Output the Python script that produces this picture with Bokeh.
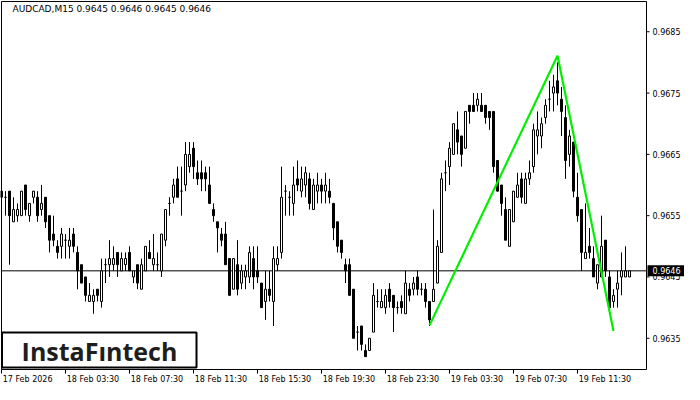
from bokeh.plotting import figure
from bokeh.models import Range1d, ColumnDataSource
from bokeh.core.properties import value
from bokeh.embed import file_html
from bokeh.resources import INLINE

# ---------------- data ----------------
title_text = "AUDCAD,M15  0.9645 0.9646 0.9645 0.9646"

open_ = [
    0.9658, 0.9658, 0.9659, 0.9654, 0.9655, 0.9655, 0.9660, 0.9655, 0.9658, 0.9658,
    0.9656, 0.9658, 0.9655, 0.9652, 0.9650, 0.9650, 0.9651, 0.9650, 0.9652, 0.9649,
    0.9647, 0.9645, 0.9641, 0.9641, 0.9643, 0.9641, 0.9647, 0.9647, 0.9647, 0.9649,
    0.9646, 0.9647, 0.9649, 0.9645, 0.9647, 0.9643, 0.9646, 0.9649, 0.9647, 0.9647,
    0.9646, 0.9651, 0.9657, 0.9658, 0.9661, 0.9659, 0.9660, 0.9663, 0.9666, 0.9662,
    0.9662, 0.9662, 0.9660, 0.9656, 0.9654, 0.9652, 0.9652, 0.9648, 0.9643, 0.9647,
    0.9644, 0.9645, 0.9645, 0.9648, 0.9646, 0.9644, 0.9641, 0.9643, 0.9641, 0.9647,
    0.9649, 0.9659, 0.9658, 0.9657, 0.9661, 0.9659, 0.9660, 0.9661, 0.9656, 0.9659,
    0.9660, 0.9659, 0.9659, 0.9657, 0.9654, 0.9651, 0.9647, 0.9647, 0.9643, 0.9636,
    0.9637, 0.9633, 0.9633, 0.9636, 0.9641, 0.9640, 0.9640, 0.9643, 0.9642, 0.9640,
    0.9641, 0.9639, 0.9643, 0.9643, 0.9645, 0.9643, 0.9643, 0.9641, 0.9641, 0.9644,
    0.9649, 0.9662, 0.9663, 0.9665, 0.9669, 0.9668, 0.9666, 0.9673, 0.9673, 0.9673,
    0.9673, 0.9673, 0.9672, 0.9672, 0.9664, 0.9660, 0.9656, 0.9650, 0.9654, 0.9658,
    0.9661, 0.9657, 0.9661, 0.9663, 0.9668, 0.9668, 0.9671, 0.9674, 0.9675, 0.9677,
    0.9674, 0.9671, 0.9665, 0.9667, 0.9658, 0.9656, 0.9648, 0.9650, 0.9648, 0.9644,
    0.9645, 0.9651, 0.9645, 0.9641, 0.9643, 0.9645, 0.9645, 0.9645,
]
high = [
    0.9660, 0.9659, 0.9659, 0.9658, 0.9657, 0.9659, 0.9660, 0.9657, 0.9659, 0.9659,
    0.9660, 0.9658, 0.9655, 0.9655, 0.9651, 0.9653, 0.9652, 0.9653, 0.9653, 0.9650,
    0.9647, 0.9645, 0.9644, 0.9643, 0.9643, 0.9648, 0.9648, 0.9651, 0.9650, 0.9649,
    0.9649, 0.9649, 0.9650, 0.9646, 0.9647, 0.9648, 0.9650, 0.9651, 0.9652, 0.9649,
    0.9652, 0.9656, 0.9658, 0.9661, 0.9663, 0.9663, 0.9667, 0.9667, 0.9667, 0.9664,
    0.9664, 0.9663, 0.9663, 0.9657, 0.9654, 0.9653, 0.9654, 0.9648, 0.9648, 0.9651,
    0.9647, 0.9647, 0.9650, 0.9650, 0.9650, 0.9644, 0.9646, 0.9646, 0.9650, 0.9650,
    0.9663, 0.9660, 0.9659, 0.9663, 0.9664, 0.9663, 0.9663, 0.9662, 0.9661, 0.9662,
    0.9661, 0.9662, 0.9661, 0.9657, 0.9654, 0.9651, 0.9648, 0.9648, 0.9643, 0.9637,
    0.9637, 0.9634, 0.9635, 0.9644, 0.9643, 0.9643, 0.9643, 0.9644, 0.9642, 0.9641,
    0.9642, 0.9646, 0.9644, 0.9645, 0.9646, 0.9644, 0.9644, 0.9641, 0.9656, 0.9651,
    0.9662, 0.9664, 0.9667, 0.9670, 0.9672, 0.9668, 0.9672, 0.9673, 0.9675, 0.9675,
    0.9675, 0.9673, 0.9672, 0.9672, 0.9664, 0.9660, 0.9658, 0.9656, 0.9659, 0.9662,
    0.9662, 0.9662, 0.9664, 0.9670, 0.9672, 0.9671, 0.9674, 0.9677, 0.9678, 0.9680,
    0.9676, 0.9673, 0.9669, 0.9667, 0.9662, 0.9656, 0.9657, 0.9653, 0.9650, 0.9647,
    0.9655, 0.9651, 0.9646, 0.9643, 0.9646, 0.9649, 0.9650, 0.9646,
]
low = [
    0.9658, 0.9655, 0.9647, 0.9654, 0.9654, 0.9655, 0.9655, 0.9654, 0.9657, 0.9654,
    0.9655, 0.9653, 0.9649, 0.9650, 0.9648, 0.9648, 0.9648, 0.9648, 0.9649, 0.9643,
    0.9644, 0.9641, 0.9641, 0.9639, 0.9641, 0.9640, 0.9644, 0.9645, 0.9646, 0.9645,
    0.9646, 0.9646, 0.9646, 0.9644, 0.9643, 0.9643, 0.9646, 0.9648, 0.9646, 0.9646,
    0.9645, 0.9650, 0.9655, 0.9657, 0.9658, 0.9655, 0.9659, 0.9662, 0.9661, 0.9660,
    0.9659, 0.9659, 0.9657, 0.9654, 0.9649, 0.9650, 0.9647, 0.9642, 0.9643, 0.9642,
    0.9643, 0.9643, 0.9644, 0.9643, 0.9644, 0.9640, 0.9638, 0.9641, 0.9637, 0.9646,
    0.9648, 0.9655, 0.9655, 0.9655, 0.9659, 0.9658, 0.9658, 0.9656, 0.9656, 0.9657,
    0.9657, 0.9657, 0.9657, 0.9651, 0.9649, 0.9648, 0.9644, 0.9642, 0.9635, 0.9633,
    0.9633, 0.9632, 0.9633, 0.9636, 0.9640, 0.9640, 0.9639, 0.9640, 0.9636, 0.9639,
    0.9639, 0.9639, 0.9641, 0.9642, 0.9642, 0.9642, 0.9640, 0.9637, 0.9641, 0.9644,
    0.9649, 0.9659, 0.9660, 0.9665, 0.9665, 0.9663, 0.9666, 0.9670, 0.9672, 0.9672,
    0.9672, 0.9670, 0.9669, 0.9662, 0.9659, 0.9655, 0.9651, 0.9650, 0.9654, 0.9658,
    0.9657, 0.9657, 0.9660, 0.9662, 0.9665, 0.9666, 0.9670, 0.9672, 0.9672, 0.9673,
    0.9668, 0.9661, 0.9663, 0.9658, 0.9654, 0.9646, 0.9648, 0.9648, 0.9645, 0.9643,
    0.9645, 0.9645, 0.9640, 0.9640, 0.9640, 0.9642, 0.9645, 0.9645,
]
close = [
    0.9659, 0.9658, 0.9655, 0.9656, 0.9656, 0.9659, 0.9656, 0.9657, 0.9659, 0.9655,
    0.9657, 0.9654, 0.9651, 0.9651, 0.9649, 0.9652, 0.9651, 0.9651, 0.9650, 0.9646,
    0.9644, 0.9642, 0.9642, 0.9642, 0.9642, 0.9646, 0.9647, 0.9648, 0.9648, 0.9647,
    0.9648, 0.9648, 0.9646, 0.9646, 0.9644, 0.9647, 0.9650, 0.9648, 0.9648, 0.9647,
    0.9652, 0.9656, 0.9657, 0.9660, 0.9658, 0.9659, 0.9665, 0.9665, 0.9663, 0.9661,
    0.9661, 0.9661, 0.9657, 0.9655, 0.9653, 0.9651, 0.9647, 0.9642, 0.9648, 0.9643,
    0.9646, 0.9646, 0.9649, 0.9645, 0.9645, 0.9640, 0.9643, 0.9642, 0.9648, 0.9648,
    0.9658, 0.9659, 0.9658, 0.9660, 0.9660, 0.9661, 0.9662, 0.9657, 0.9660, 0.9660,
    0.9659, 0.9660, 0.9658, 0.9653, 0.9650, 0.9649, 0.9646, 0.9642, 0.9635, 0.9636,
    0.9634, 0.9632, 0.9635, 0.9642, 0.9641, 0.9641, 0.9642, 0.9641, 0.9640, 0.9640,
    0.9640, 0.9644, 0.9642, 0.9644, 0.9643, 0.9643, 0.9641, 0.9638, 0.9643, 0.9650,
    0.9661, 0.9662, 0.9666, 0.9670, 0.9667, 0.9665, 0.9672, 0.9672, 0.9672, 0.9674,
    0.9672, 0.9671, 0.9671, 0.9663, 0.9659, 0.9657, 0.9651, 0.9656, 0.9659, 0.9660,
    0.9658, 0.9661, 0.9662, 0.9669, 0.9669, 0.9670, 0.9673, 0.9674, 0.9676, 0.9675,
    0.9672, 0.9664, 0.9668, 0.9659, 0.9655, 0.9649, 0.9649, 0.9649, 0.9645, 0.9647,
    0.9650, 0.9646, 0.9640, 0.9642, 0.9644, 0.9646, 0.9646, 0.9646,
]
last_price = 0.9646
price_ticks = [0.9635, 0.9645, 0.9655, 0.9665, 0.9675, 0.9685]
price_labels = ["0.9635", "0.9645", "0.9655", "0.9665", "0.9675", "0.9685"]
time_tick_bars = [0, 16, 32, 48, 64, 80, 96, 112, 128, 144]
time_tick_labels = ["17 Feb 2026", "18 Feb 03:30", "18 Feb 07:30", "18 Feb 11:30",
                    "18 Feb 15:30", "18 Feb 19:30", "18 Feb 23:30", "19 Feb 03:30",
                    "19 Feb 07:30", "19 Feb 11:30"]
pattern_bars = [107, 139, 153]
pattern_prices = [0.96371, 0.96811, 0.96362]
logo_text = "InstaF\u0131ntech"

# ---------------- layout (pixels -> data helpers) ----------------
W, H = 684, 384
PPX = 4.0            # pixels per bar
PPY = 61300.0        # pixels per price unit
XS = -0.25           # data x at canvas left
YT = 0.96901         # data y at canvas top
CHART_L, CHART_T = 1, 1
CHART_W, CHART_H = 646, 369   # frame border lines (pixels)
FONT = "DejaVu Sans"


def X(px):
    return XS + px / PPX


def Y(py):
    return YT - py / PPY


p = figure(width=W, height=H, output_backend="svg", toolbar_location=None,
           x_range=Range1d(X(0), X(W)), y_range=Range1d(Y(H), Y(0)),
           x_axis_location=None, y_axis_location=None,
           min_border_left=0, min_border_right=0, min_border_top=0,
           min_border_bottom=0)
p.background_fill_color = "white"
p.border_fill_color = "white"
p.outline_line_color = None
p.grid.visible = False

xl, xr = X(CHART_L), X(CHART_W)
yt, yb = Y(CHART_T), Y(CHART_H)

# current price line (behind candles)
p.segment(x0=[xl], x1=[xr], y0=[last_price], y1=[last_price],
          line_color="black", line_width=1)

# candles
idx = list(range(len(open_)))
src = ColumnDataSource(dict(
    x=idx,
    high=high,
    low=low,
    top=[max(o, c) for o, c in zip(open_, close)],
    bottom=[min(o, c) for o, c in zip(open_, close)],
    fill=["white" if c >= o else "black" for o, c in zip(open_, close)],
))
p.segment(x0="x", y0="low", x1="x", y1="high", source=src,
          line_color="black", line_width=1)
p.vbar(x="x", width=0.5, top="top", bottom="bottom", source=src,
       fill_color="fill", line_color="black", line_width=1)

# pattern line
p.line(pattern_bars, pattern_prices, line_color="#00f000", line_width=2.2)

# chart frame
p.line([xl, xr, xr, xl, xl], [yt, yt, yb, yb, yt], line_color="black", line_width=1)

# right price axis
n = len(price_ticks)
p.segment(x0=[xr] * n, x1=[X(CHART_W + 3)] * n, y0=price_ticks, y1=price_ticks,
          line_color="black", line_width=1)
p.text(x=[X(CHART_W + 6)] * n, y=price_ticks, text=price_labels,
       text_font=value(FONT), text_font_size=value("8px"), text_color="black",
       text_align="left", text_baseline="middle")

# bottom time axis
m = len(time_tick_bars)
p.segment(x0=time_tick_bars, x1=time_tick_bars, y0=[yb] * m, y1=[Y(CHART_H + 4)] * m,
          line_color="black", line_width=1)
p.text(x=[b + 0.3 for b in time_tick_bars], y=[Y(CHART_H + 9.5)] * m,
       text=time_tick_labels,
       text_font=value(FONT), text_font_size=value("8px"), text_color="black",
       text_align="left", text_baseline="middle")

# current price tag
p.quad(left=[X(CHART_W + 1)], right=[X(W)],
       top=[last_price + 5.5 / PPY], bottom=[last_price - 5.5 / PPY],
       fill_color="black", line_color=None)
p.text(x=[X(CHART_W + 6)], y=[last_price], text=["%.4f" % last_price],
       text_font=value(FONT), text_font_size=value("8px"), text_color="white",
       text_align="left", text_baseline="middle")

# title
p.text(x=[X(12)], y=[Y(8)], text=[title_text],
       text_font=value(FONT), text_font_size=value("9px"), text_color="black",
       text_align="left", text_baseline="middle")

# logo
p.quad(left=[X(1.5)], right=[X(196)], top=[Y(332)], bottom=[Y(367)],
       fill_color="white", line_color="black", line_width=2)
p.text(x=[X(99)], y=[Y(350)], text=[logo_text],
       text_font=value("Open Sans"), text_font_style="bold",
       text_font_size=value("25px"), text_color="#1e1e1e",
       text_align="center", text_baseline="middle")

open("out.html", "w").write(file_html(p, INLINE))
